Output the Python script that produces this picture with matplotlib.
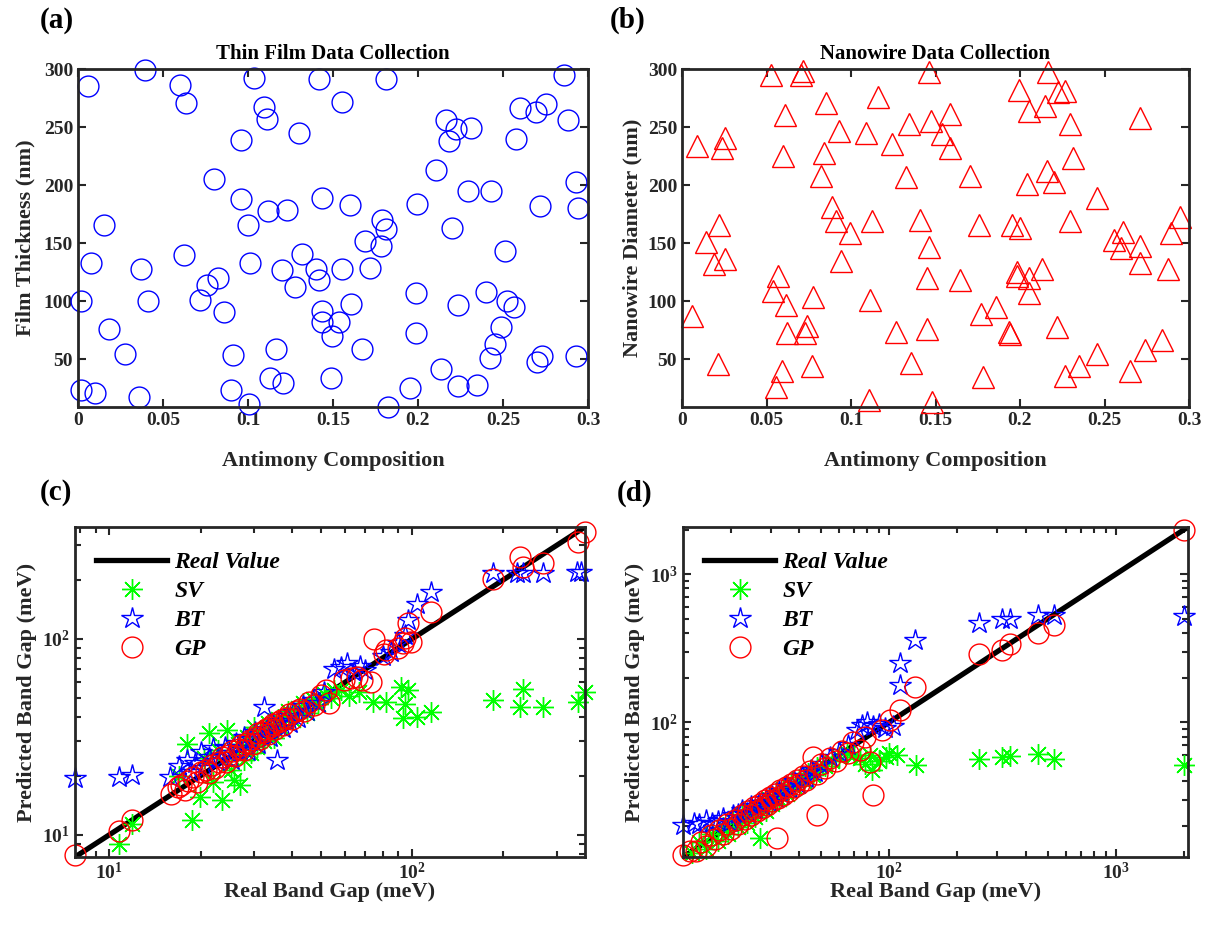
import numpy as np
import matplotlib
matplotlib.use('Agg')
import matplotlib.pyplot as plt
from matplotlib.ticker import FuncFormatter, FixedLocator

plt.rcParams['font.family'] = ['Liberation Serif', 'DejaVu Serif']
plt.rcParams['font.weight'] = 'bold'
plt.rcParams['mathtext.fontset'] = 'custom'
plt.rcParams['mathtext.bf'] = 'Liberation Serif:bold'
plt.rcParams['mathtext.rm'] = 'Liberation Serif:bold'

# ---- (a) thin film data: antimony composition vs film thickness
film_x = [0.0392, 0.0059, 0.0602, 0.0637, 0.1035, 0.1418, 0.1092, 0.1114, 0.0957, 0.1298,
          0.0800, 0.0957, 0.1118, 0.1231, 0.1437, 0.0151, 0.0998, 0.0078, 0.0622, 0.0369,
          0.1012, 0.1320, 0.1200, 0.1398, 0.1418, 0.0824, 0.0759, 0.1276, 0.0016, 0.0412,
          0.0716, 0.0857, 0.1433, 0.1437, 0.0180, 0.0276, 0.0910, 0.1163, 0.0020, 0.0098,
          0.0359, 0.0902, 0.1131, 0.1206, 0.1004, 0.1490,
          0.1810, 0.1555, 0.2857, 0.2163, 0.2225, 0.2314, 0.2182, 0.2602, 0.2692, 0.2751,
          0.2880, 0.2574, 0.2108, 0.2294, 0.2431, 0.2931, 0.2716, 0.2941, 0.1602, 0.1996,
          0.1788, 0.1810, 0.1686, 0.1780, 0.2202, 0.2510, 0.1550, 0.1716, 0.1608, 0.1990,
          0.2235, 0.2402, 0.2524, 0.2565, 0.1535, 0.1496, 0.2490, 0.1990, 0.2451, 0.1671,
          0.2425, 0.2731, 0.2700, 0.2927, 0.2133, 0.1955, 0.2235, 0.2349, 0.1824]
film_t = [299, 285, 286, 271, 292, 291, 267, 257, 239, 245,
          205, 188, 178, 179, 189, 166, 166, 133, 140, 128,
          133, 141, 127, 128, 118, 120, 114, 112, 100, 100,
          101, 91, 92, 82, 76, 55, 54, 59, 24, 21,
          18, 24, 34, 30, 12, 34,
          291, 272, 295, 256, 248, 249, 238, 266, 263, 270,
          256, 240, 213, 195, 195, 203, 182, 180, 183, 184,
          170, 162, 152, 148, 163, 143, 128, 129, 98, 107,
          97, 108, 100, 95, 82, 70, 78, 73, 63, 59,
          51, 53, 48, 53, 42, 25, 27, 28, 9]

# ---- (b) nanowire data: antimony composition vs nanowire diameter
wire_x = [0.0526, 0.0706, 0.0718, 0.0853, 0.1159, 0.0610, 0.0257, 0.0089, 0.0238, 0.0598,
          0.0928, 0.1088, 0.0841, 0.1245, 0.1343, 0.0820, 0.1324, 0.0888, 0.0912, 0.0992,
          0.1124, 0.0218, 0.0143, 0.0192, 0.0255, 0.0941, 0.1408, 0.0569, 0.0536, 0.0614,
          0.0777, 0.1114, 0.0061, 0.0624, 0.0741, 0.0728, 0.1265, 0.0212, 0.0590, 0.0771,
          0.0555, 0.1104, 0.1353,
          0.1461, 0.2163, 0.1996, 0.2222, 0.2267, 0.2051, 0.2147, 0.1473, 0.1584, 0.1539,
          0.1584, 0.2294, 0.2708, 0.1706, 0.2316, 0.2157, 0.2202, 0.2041, 0.2453, 0.1757,
          0.1953, 0.2000, 0.2294, 0.2944, 0.2892, 0.2559, 0.2610, 0.2598, 0.2708, 0.2712,
          0.2873, 0.1461, 0.1447, 0.1647, 0.1980, 0.1980, 0.2055, 0.2129, 0.2055, 0.1767,
          0.1859, 0.1941, 0.1937, 0.2218, 0.1447, 0.2457, 0.2349, 0.2267, 0.2741, 0.2843,
          0.2649, 0.1780, 0.1480]
wire_d = [295, 295, 298, 271, 276, 260, 241, 234, 232, 225,
          247, 245, 228, 235, 253, 208, 207, 181, 169, 159,
          169, 166, 151, 132, 136, 135, 170, 122, 109, 97,
          104, 101, 87, 73, 79, 73, 74, 46, 40, 44,
          26, 15, 47,
          297, 297, 282, 280, 281, 264, 268, 255, 261, 244,
          232, 253, 258, 208, 223, 212, 203, 201, 189, 166,
          166, 163, 169, 173, 159, 153, 160, 146, 148, 133,
          128, 147, 120, 118, 125, 122, 120, 128, 107, 89,
          95, 72, 74, 78, 76, 55, 44, 36, 58, 67,
          40, 35, 13]

# ---- (c) thin film band gap: real vs predicted (meV)
c_gp_real = [7.7, 10.8, 11.9, 16.0, 16.8, 17.3, 17.8, 18.2, 18.9, 19.4, 20.1, 20.8, 21.3, 21.9,
             22.4, 23.0, 23.6, 24.2, 24.9, 25.5, 26.0, 26.7, 27.3, 27.9, 28.5, 29.1, 29.8, 30.4,
             30.9, 31.5, 32.1, 32.8, 33.4, 34.0, 34.7, 35.3, 36.0, 36.8, 37.5, 38.3, 39.1, 40.0,
             41.2, 42.5, 44.0, 45.6, 47.5, 49.8, 52.0, 53.0, 59.6, 62.7, 65.9, 68.5, 72.9, 75.0,
             80.9, 82.0, 89.5, 93.0, 94.4, 96.6, 99.0, 115, 185, 227, 232, 271, 353, 371]
c_gp_pred = [7.9, 10.4, 11.9, 16.2, 17.5, 18.0, 17.0, 18.8, 19.6, 18.6, 20.8, 21.5, 20.6, 22.8,
             22.0, 23.6, 24.8, 23.5, 25.6, 26.8, 25.2, 27.5, 28.6, 27.2, 29.4, 30.6, 29.0, 31.5,
             33.2, 30.8, 33.5, 34.6, 32.6, 35.4, 36.8, 34.5, 37.4, 38.5, 36.4, 39.6, 41.2, 38.8,
             42.6, 44.0, 42.8, 47.5, 46.2, 51.5, 54.8, 47.0, 61.5, 62.8, 64.0, 61.5, 60.4, 100,
             84.0, 87.5, 89.4, 94.7, 100.4, 120, 96.6, 137, 203, 262, 233, 245, 311, 351]

c_bt_real = [7.7, 10.8, 11.9, 15.9, 17.0, 18.0, 18.5, 19.2, 20.0, 20.5, 21.3, 22.0, 22.6, 23.3,
             24.0, 24.8, 25.5, 26.2, 27.0, 27.8, 28.6, 29.4, 30.2, 31.0, 31.8, 32.4, 33.2, 34.0,
             34.8, 35.8, 36.5, 37.5, 38.5, 39.5, 40.5, 42.0, 43.5, 45.0, 47.0, 49.0, 51.0, 55.0,
             58.0, 61.0, 64.0, 67.0, 70.0, 80.0, 85.0, 90.0, 95.0, 96.6, 104, 115, 185, 221,
             232, 271, 349, 362]
c_bt_pred = [19.4, 19.8, 20.3, 19.8, 22.5, 24.0, 21.0, 23.2, 26.5, 22.0, 25.0, 27.8, 23.8, 24.5,
             28.0, 26.0, 24.2, 29.5, 27.0, 31.5, 26.8, 30.8, 33.5, 29.0, 32.0, 45.0, 34.8, 31.5,
             36.5, 24.0, 38.0, 35.0, 40.5, 37.0, 42.5, 39.5, 45.5, 43.0, 49.0, 47.0, 53.5, 70.0,
             72.0, 75.0, 68.0, 73.0, 69.0, 82.0, 86.0, 95.0, 105, 124, 151, 174, 217, 217,
             217, 217, 218, 220]

c_sv_real = [10.8, 11.9, 17.0, 18.0, 18.7, 19.9, 20.5, 21.3, 22.0, 22.8, 23.5, 24.5, 25.2, 25.8,
             26.5, 27.1, 27.8, 28.5, 29.3, 30.0, 30.8, 31.6, 32.5, 33.4, 34.2, 35.0, 36.0, 37.0,
             38.0, 39.0, 40.5, 42.0, 43.5, 45.0, 47.0, 49.0, 51.0, 55.0, 54.0, 58.0, 62.0, 66.8,
             74.0, 81.9, 92.0, 96.6, 94.4, 93.0, 104, 115, 185, 227, 232, 271, 353, 371]
c_sv_pred = [9.0, 11.4, 20.0, 29.2, 11.9, 15.6, 24.5, 32.9, 18.5, 27.0, 15.0, 34.2, 21.5, 19.0,
             29.0, 17.9, 24.0, 31.5, 26.0, 35.5, 28.0, 33.0, 30.0, 37.0, 33.5, 31.0, 39.0, 35.5,
             40.0, 43.0, 38.5, 44.5, 47.0, 42.0, 49.5, 46.5, 52.0, 55.0, 50.0, 55.0, 51.0, 53.6,
             47.6, 47.6, 57.0, 54.7, 46.7, 39.2, 40.0, 42.4, 48.6, 45.0, 55.7, 44.7, 47.6, 53.7]

# ---- (d) nanowire band gap: real vs predicted (meV)
d_gp_real = [12.3, 13.2, 14.0, 14.8, 15.5, 16.3, 17.0, 17.8, 18.5, 19.3, 20.0, 20.8, 21.5, 22.3,
             23.0, 23.8, 24.5, 25.2, 26.0, 26.8, 27.5, 28.2, 29.0, 29.8, 30.5, 31.3, 31.9, 32.2,
             33.0, 34.0, 35.0, 36.0, 37.0, 38.0, 39.0, 40.0, 41.5, 43.0, 44.5, 46.3, 47.9, 48.0,
             50.0, 52.0, 55.0, 58.0, 62.0, 66.0, 69.5, 74.4, 78.0, 82.4, 85.0, 92.7, 101, 112,
             130, 250, 314, 342, 451, 531, 2000]
d_gp_pred = [12.6, 13.6, 13.5, 15.6, 14.6, 17.2, 16.2, 18.8, 17.6, 20.4, 19.0, 22.0, 20.5, 23.6,
             22.2, 25.0, 23.6, 26.8, 25.0, 28.2, 26.4, 29.8, 27.8, 31.5, 29.4, 33.0, 16.4, 31.0,
             35.0, 32.5, 36.8, 34.5, 38.5, 36.5, 41.0, 38.5, 43.0, 41.0, 46.5, 58.6, 23.7, 45.0,
             52.0, 49.0, 57.0, 55.0, 64.0, 62.0, 74.0, 65.0, 80.0, 54.2, 32.3, 88.7, 104, 121,
             174, 290, 308, 338, 399, 455, 2000]

d_bt_real = [12.3, 13.7, 14.5, 15.5, 16.5, 17.5, 18.5, 19.9, 20.5, 21.5, 22.5, 23.5, 24.5, 25.5,
             26.5, 27.5, 28.5, 29.5, 30.5, 31.5, 32.5, 33.5, 35.0, 36.5, 38.0, 39.5, 41.0, 43.0,
             45.0, 47.0, 50.0, 55.0, 60.0, 66.0, 72.0, 76.0, 80.0, 85.0, 90.0, 96.0, 104, 112,
             112, 130, 250, 314, 342, 451, 531, 2000]
d_bt_pred = [20.2, 21.0, 20.5, 22.0, 20.8, 21.5, 22.5, 21.2, 23.5, 24.0, 25.5, 24.5, 27.0, 26.0,
             28.5, 27.5, 30.5, 29.0, 32.0, 31.0, 34.5, 33.0, 37.0, 35.5, 40.0, 38.5, 43.0, 42.0,
             47.5, 46.0, 52.0, 58.0, 63.0, 70.0, 88.0, 96.0, 100, 94.0, 98.0, 92.0, 95.0, 179,
             251, 360, 467, 497, 497, 531, 531, 523]

d_sv_real = [13.5, 14.5, 15.5, 16.5, 17.5, 18.5, 19.5, 20.5, 21.5, 22.5, 23.5, 24.5, 25.5, 26.9,
             27.5, 28.5, 29.5, 30.5, 31.5, 32.5, 34.0, 35.5, 37.0, 38.5, 40.0, 42.0, 44.0, 46.0,
             48.0, 52.0, 56.0, 60.0, 65.0, 70.0, 74.4, 78.0, 82.0, 83.5, 90.0, 96.8, 100, 108,
             131, 250, 314, 342, 451, 531, 2000]
d_sv_pred = [13.0, 15.5, 14.0, 17.5, 15.8, 19.5, 17.5, 21.5, 19.5, 23.5, 21.0, 25.5, 23.0, 16.4,
             27.0, 25.0, 30.5, 28.0, 33.0, 30.5, 35.5, 33.0, 38.5, 36.5, 41.5, 40.0, 45.5, 44.0,
             50.0, 51.0, 55.0, 58.0, 62.0, 60.0, 57.2, 52.0, 60.0, 47.6, 55.0, 58.6, 62.0, 60.0,
             51.5, 56.3, 58.6, 59.0, 60.8, 56.3, 51.5]

c_lim = [7.7, 372]
d_lim = [12.3, 2080]

dark = '#262626'
W, H = 1207, 936
fig = plt.figure(figsize=(W / 100, H / 100), dpi=100)


def box(l, r, t, b):
    return [l / W, 1 - b / H, (r - l) / W, (b - t) / H]


def style(ax):
    for s in ax.spines.values():
        s.set_linewidth(2)
        s.set_color(dark)
    ax.tick_params(which='both', direction='in', top=True, right=True, colors=dark,
                   labelcolor=dark, labelsize=14, width=1.5)
    ax.tick_params(which='major', length=6)
    ax.tick_params(which='minor', length=4)


lbl = dict(fontsize=16, fontweight='bold', color=dark)
pow_fmt = FuncFormatter(lambda v, p: r'$\mathbf{10^{%d}}$' % round(np.log10(v)))
comp_ticks = [0, 0.05, 0.1, 0.15, 0.2, 0.25, 0.3]
comp_labels = ['0', '0.05', '0.1', '0.15', '0.2', '0.25', '0.3']

# (a)
ax = fig.add_axes(box(78, 588, 69, 407))
ax.plot(film_x, film_t, 'o', ms=15, mfc='none', mec='b', mew=1, clip_on=False)
ax.set_xlim(0, 0.3)
ax.set_ylim(9, 300)
ax.set_xticks(comp_ticks)
ax.set_xticklabels(comp_labels)
ax.set_yticks([50, 100, 150, 200, 250, 300])
ax.set_title('Thin Film Data Collection', fontsize=15, fontweight='bold', pad=7)
ax.set_xlabel('Antimony Composition', labelpad=16, **lbl)
ax.set_ylabel('Film Thickness (nm)', labelpad=6, **lbl)
style(ax)

# (b)
ax = fig.add_axes(box(682, 1189, 69, 407))
ax.plot(wire_x, wire_d, '^', ms=16, mfc='none', mec='r', mew=1, clip_on=False)
ax.set_xlim(0, 0.3)
ax.set_ylim(9, 300)
ax.set_xticks(comp_ticks)
ax.set_xticklabels(comp_labels)
ax.set_yticks([50, 100, 150, 200, 250, 300])
ax.set_title('Nanowire Data Collection', fontsize=15, fontweight='bold', pad=7)
ax.set_xlabel('Antimony Composition', labelpad=16, **lbl)
ax.set_ylabel('Nanowire Diameter (nm)', **lbl)
style(ax)


def band_panel(rect, lim, sv, bt, gp, ticks):
    ax = fig.add_axes(rect)
    ax.plot(lim, lim, '-', color='k', lw=3.8, label='Real Value')
    ax.plot(sv[0], sv[1], ls='none', marker=(8, 2, 0), ms=15, mec='#00ff00', mew=1,
            label='SV', clip_on=False)
    ax.plot(bt[0], bt[1], ls='none', marker='*', ms=16, mfc='none', mec='b', mew=1,
            label='BT', clip_on=False)
    ax.plot(gp[0], gp[1], 'o', ms=15, mfc='none', mec='r', mew=1, label='GP', clip_on=False)
    ax.set_xscale('log')
    ax.set_yscale('log')
    ax.set_xlim(lim)
    ax.set_ylim(lim)
    ax.xaxis.set_major_locator(FixedLocator(ticks))
    ax.yaxis.set_major_locator(FixedLocator(ticks))
    ax.xaxis.set_major_formatter(pow_fmt)
    ax.yaxis.set_major_formatter(pow_fmt)
    ax.set_xlabel('Real Band Gap (meV)', labelpad=-1, **lbl)
    ax.set_ylabel('Predicted Band Gap (meV)', **lbl)
    ax.legend(loc='upper left', frameon=False, handlelength=3.0, labelspacing=0.32,
              handletextpad=0.3, bbox_to_anchor=(0.0, 0.99),
              prop=dict(family='Liberation Serif', weight='bold', style='italic', size=17))
    style(ax)
    return ax


band_panel(box(75, 585, 527, 857), c_lim, (c_sv_real, c_sv_pred), (c_bt_real, c_bt_pred),
           (c_gp_real, c_gp_pred), [10, 100])
band_panel(box(683, 1188, 527, 857), d_lim, (d_sv_real, d_sv_pred), (d_bt_real, d_bt_pred),
           (d_gp_real, d_gp_pred), [100, 1000])

for s, x, y in [('(a)', 40, 20), ('(b)', 610, 20), ('(c)', 40, 493), ('(d)', 617, 493)]:
    fig.text(x / W, 1 - y / H, s, fontsize=21, fontweight='bold', va='center')

fig.savefig('out.png', dpi=100)
